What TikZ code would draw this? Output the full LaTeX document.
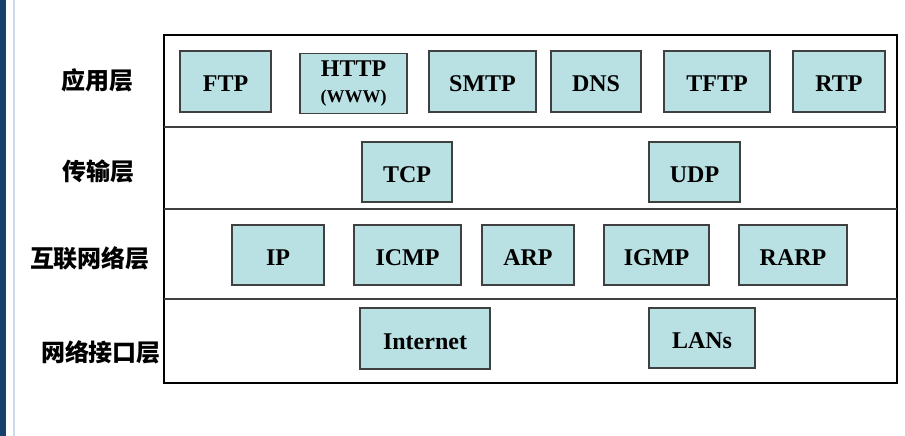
\documentclass[tikz,border=0pt]{standalone}
\usepackage{fontspec}
\setmainfont{Liberation Serif}
\newfontfamily\cjk{Noto Sans CJK SC}
\definecolor{boxfill}{HTML}{B9E0E3}
\definecolor{boxline}{HTML}{404040}
\definecolor{sidebar}{HTML}{16416A}
\definecolor{sideline}{HTML}{CFD8E6}
\begin{document}
\begin{tikzpicture}[x=1pt,y=-1pt,
  protobox/.style={draw=boxline,fill=boxfill,line width=1.3pt,inner sep=0pt,
    font=\fontsize{24}{27}\selectfont\bfseries,text=black},
  proto/.style={protobox,text height=21pt,text depth=0pt},
  layer/.style={font=\cjk\fontsize{24}{26}\selectfont\bfseries,text=black,inner sep=0pt},
  divider/.style={draw=boxline,line width=1.3pt}]
\useasboundingbox (0,0) rectangle (905,436);
\fill[white] (0,0) rectangle (905,436);
\fill[sidebar] (0,0) rectangle (6,436);
\fill[sideline] (13,0) rectangle (15,436);
% outer frame
\node[draw=black,line width=2.5pt,minimum width=733pt,minimum height=348pt,inner sep=0pt] (frame) at (530.5,209) {};
\coordinate (d1l) at (164,127); \coordinate (d1r) at (897,127);
\coordinate (d2l) at (164,209); \coordinate (d2r) at (897,209);
\coordinate (d3l) at (164,299); \coordinate (d3r) at (897,299);
\draw[divider] (d1l) -- (d1r);
\draw[divider] (d2l) -- (d2r);
\draw[divider] (d3l) -- (d3r);
% layer labels
\node[layer] (app) at (97,80) {应用层};
\node[layer] (trans) at (98,171) {传输层};
\node[layer] (inet) at (90,258) {互联网络层};
\node[layer] (link) at (101,352) {网络接口层};
% application layer
\node[proto,minimum width=91pt,minimum height=61pt] (ftp) at (225.5,81.5) {FTP};
\node[protobox,minimum width=107pt,minimum height=60pt,align=center] (http) at (353.5,83.5) {HTTP\\[-1pt]{\fontsize{18}{20}\selectfont (WWW)}};
\node[proto,minimum width=107pt,minimum height=61pt] (smtp) at (482.5,81.5) {SMTP};
\node[proto,minimum width=90pt,minimum height=61pt] (dns) at (596,81.5) {DNS};
\node[proto,minimum width=106pt,minimum height=61pt] (tftp) at (717,81.5) {TFTP};
\node[proto,minimum width=92pt,minimum height=61pt] (rtp) at (839,81.5) {RTP};
% transport layer
\node[proto,minimum width=90pt,minimum height=60pt] (tcp) at (407,172) {TCP};
\node[proto,minimum width=91pt,minimum height=60pt] (udp) at (694.5,172) {UDP};
% internet layer
\node[proto,minimum width=92pt,minimum height=60pt] (ip) at (278,255) {IP};
\node[proto,minimum width=107pt,minimum height=60pt] (icmp) at (407.5,255) {ICMP};
\node[proto,minimum width=92pt,minimum height=60pt] (arp) at (528,255) {ARP};
\node[proto,minimum width=105pt,minimum height=60pt] (igmp) at (656.5,255) {IGMP};
\node[proto,minimum width=108pt,minimum height=60pt] (rarp) at (793,255) {RARP};
% network interface layer
\node[proto,minimum width=130pt,minimum height=61pt] (internet) at (425,338.5) {Internet};
\node[proto,minimum width=106pt,minimum height=60pt] (lans) at (702,338) {LANs};
\end{tikzpicture}
\end{document}
